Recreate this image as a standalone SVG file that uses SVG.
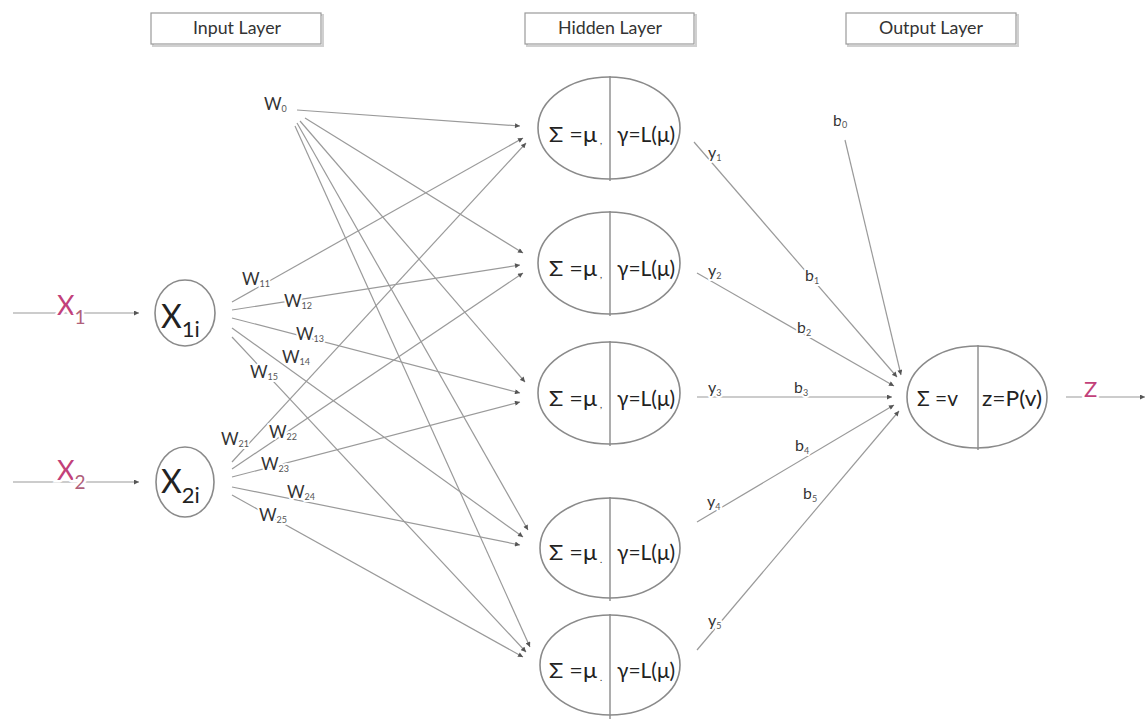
<svg xmlns="http://www.w3.org/2000/svg" width="1145" height="719" viewBox="0 0 1145 719">
  <style>
    text { font-family: Lato, "Noto Sans", "Liberation Sans", sans-serif; fill: #222; }
    .hdr { font-size: 17px; fill: #333; text-anchor: middle; }
    .hbox { fill: #fff; stroke: #9a9a9a; stroke-width: 1.2; }
    .shadow { fill: none; stroke: #d0d0d0; stroke-width: 2; }
    .node { fill: #fff; stroke: #8a8a8a; stroke-width: 1.6; }
    .div { stroke: #8a8a8a; stroke-width: 1.4; }
    .edge { stroke: #9a9a9a; stroke-width: 1.2; fill: none; marker-end: url(#arr); }
    .lbl { font-size: 17px; fill: #333; paint-order: stroke; stroke: #fff; stroke-width: 4px; stroke-linejoin: round; }
    .small { font-size: 16px; fill: #333; paint-order: stroke; stroke: #fff; stroke-width: 4px; stroke-linejoin: round; }
    .s { font-size: 9px; fill: #555; }
    .red { fill: #c2417a; paint-order: stroke; stroke: #fff; stroke-width: 5px; }
    .ntext { font-size: 22px; fill: #222; }
  </style>
  <defs>
    <marker id="arr" viewBox="0 0 6 6" refX="6" refY="3" markerWidth="6" markerHeight="5" markerUnits="userSpaceOnUse" orient="auto">
      <path d="M0,0 L6,3 L0,6 z" fill="#555"/>
    </marker>
  </defs>

  <!-- layer headers -->
  <g id="header-input">
    <rect class="shadow" x="153" y="15" width="170" height="31"/>
    <rect class="hbox" x="151" y="13" width="170" height="31"/>
    <text class="hdr" x="237" y="34" textLength="88" lengthAdjust="spacingAndGlyphs">Input Layer</text>
  </g>
  <g id="header-hidden">
    <rect class="shadow" x="527" y="15" width="169" height="31"/>
    <rect class="hbox" x="525" y="13" width="169" height="31"/>
    <text class="hdr" x="610" y="34" textLength="104" lengthAdjust="spacingAndGlyphs">Hidden Layer</text>
  </g>
  <g id="header-output">
    <rect class="shadow" x="848" y="15" width="170" height="31"/>
    <rect class="hbox" x="846" y="13" width="170" height="31"/>
    <text class="hdr" x="931" y="34" textLength="104" lengthAdjust="spacingAndGlyphs">Output Layer</text>
  </g>

  <!-- connectors -->
  <g id="connectors">
    <!-- inputs into the first layer -->
    <line class="edge" x1="13" y1="313" x2="139" y2="313"/>
    <line class="edge" x1="13" y1="482" x2="139" y2="482"/>
    <!-- bias w0 to hidden nodes -->
    <line class="edge" x1="297" y1="110" x2="520" y2="126"/>
    <line class="edge" x1="305" y1="118" x2="523" y2="253"/>
    <line class="edge" x1="300" y1="121" x2="525" y2="382"/>
    <line class="edge" x1="297" y1="123" x2="528" y2="530"/>
    <line class="edge" x1="295" y1="126" x2="530" y2="647"/>
    <!-- x1 to hidden nodes -->
    <line class="edge" x1="232" y1="302" x2="523" y2="138"/>
    <line class="edge" x1="232" y1="310" x2="520" y2="265"/>
    <line class="edge" x1="232" y1="318" x2="520" y2="393"/>
    <line class="edge" x1="232" y1="328" x2="523" y2="537"/>
    <line class="edge" x1="232" y1="337" x2="526" y2="652"/>
    <!-- x2 to hidden nodes -->
    <line class="edge" x1="232" y1="462" x2="526" y2="143"/>
    <line class="edge" x1="232" y1="469" x2="523" y2="273"/>
    <line class="edge" x1="232" y1="477" x2="520" y2="402"/>
    <line class="edge" x1="232" y1="487" x2="520" y2="545"/>
    <line class="edge" x1="232" y1="495" x2="523" y2="657"/>
    <!-- hidden outputs to output node -->
    <line class="edge" x1="694" y1="142" x2="897" y2="377"/>
    <line class="edge" x1="845" y1="140" x2="901" y2="375"/>
    <line class="edge" x1="697" y1="273" x2="894" y2="386"/>
    <line class="edge" x1="697" y1="397" x2="892" y2="397"/>
    <line class="edge" x1="697" y1="522" x2="894" y2="405"/>
    <line class="edge" x1="697" y1="650" x2="899" y2="411"/>
    <!-- final output -->
    <line class="edge" x1="1066" y1="397" x2="1145" y2="397"/>
  </g>

  <!-- weight and bias labels -->
  <g id="labels">
    <text class="lbl" x="264" y="110">W<tspan class="s" dy="2">0</tspan></text>
    <text class="lbl" x="242" y="285">W<tspan class="s" dy="2">11</tspan></text>
    <text class="lbl" x="284" y="307">W<tspan class="s" dy="2">12</tspan></text>
    <text class="lbl" x="296" y="340">W<tspan class="s" dy="2">13</tspan></text>
    <text class="lbl" x="282" y="363">W<tspan class="s" dy="2">14</tspan></text>
    <text class="lbl" x="250" y="378">W<tspan class="s" dy="2">15</tspan></text>
    <text class="lbl" x="221" y="445">W<tspan class="s" dy="2">21</tspan></text>
    <text class="lbl" x="269" y="438">W<tspan class="s" dy="2">22</tspan></text>
    <text class="lbl" x="261" y="470">W<tspan class="s" dy="2">23</tspan></text>
    <text class="lbl" x="287" y="498">W<tspan class="s" dy="2">24</tspan></text>
    <text class="lbl" x="259" y="521">W<tspan class="s" dy="2">25</tspan></text>

    <text class="small" x="708" y="158">y<tspan class="s" dy="3">1</tspan></text>
    <text class="small" x="708" y="276">y<tspan class="s" dy="3">2</tspan></text>
    <text class="small" x="708" y="393">y<tspan class="s" dy="3">3</tspan></text>
    <text class="small" x="707" y="507">y<tspan class="s" dy="3">4</tspan></text>
    <text class="small" x="708" y="626">y<tspan class="s" dy="3">5</tspan></text>

    <text class="small" x="833" y="126">b<tspan class="s" dy="2">0</tspan></text>
    <text class="small" x="805" y="281">b<tspan class="s" dy="3">1</tspan></text>
    <text class="small" x="797" y="333">b<tspan class="s" dy="3">2</tspan></text>
    <text class="small" x="794" y="393">b<tspan class="s" dy="3">3</tspan></text>
    <text class="small" x="795" y="451">b<tspan class="s" dy="3">4</tspan></text>
    <text class="small" x="803" y="499">b<tspan class="s" dy="3">5</tspan></text>

    <text class="red" x="57" y="315" font-size="27">X<tspan dy="9" font-size="19" style="fill:#b0607a">1</tspan></text>
    <text class="red" x="57" y="480" font-size="27">X<tspan dy="9" font-size="19" style="fill:#b0607a">2</tspan></text>
    <text class="red" x="1084" y="397" font-size="22">Z</text>
  </g>

  <!-- input nodes -->
  <g id="input-x1">
    <ellipse class="node" cx="185" cy="313" rx="30" ry="33"/>
    <text x="161" y="328" font-size="32">X<tspan dy="9" font-size="22">1i</tspan></text>
  </g>
  <g id="input-x2">
    <ellipse class="node" cx="185" cy="482" rx="29" ry="35"/>
    <text x="161" y="493" font-size="32">X<tspan dy="10" font-size="22">2i</tspan></text>
  </g>

  <!-- hidden nodes -->
  <g id="hidden-1">
    <ellipse class="node" cx="609" cy="128" rx="71" ry="51"/>
    <line class="div" x1="610" y1="76" x2="610" y2="181"/>
    <text class="ntext" x="549" y="142" textLength="48" lengthAdjust="spacingAndGlyphs">Σ =μ</text><text x="600" y="144" font-size="9">,</text>
    <text class="ntext" x="617" y="142" textLength="58" lengthAdjust="spacingAndGlyphs">γ=L(μ)</text>
  </g>
  <g id="hidden-2">
    <ellipse class="node" cx="609" cy="263" rx="71" ry="51"/>
    <line class="div" x1="610" y1="211" x2="610" y2="316"/>
    <text class="ntext" x="549" y="276" textLength="48" lengthAdjust="spacingAndGlyphs">Σ =μ</text><text x="600" y="278" font-size="9">,</text>
    <text class="ntext" x="617" y="276" textLength="58" lengthAdjust="spacingAndGlyphs">γ=L(μ)</text>
  </g>
  <g id="hidden-3">
    <ellipse class="node" cx="609" cy="393" rx="71" ry="51"/>
    <line class="div" x1="610" y1="341" x2="610" y2="446"/>
    <text class="ntext" x="549" y="406" textLength="48" lengthAdjust="spacingAndGlyphs">Σ =μ</text><text x="600" y="408" font-size="9">,</text>
    <text class="ntext" x="617" y="406" textLength="58" lengthAdjust="spacingAndGlyphs">γ=L(μ)</text>
  </g>
  <g id="hidden-4">
    <ellipse class="node" cx="610" cy="548" rx="70" ry="50"/>
    <line class="div" x1="610" y1="497" x2="610" y2="601"/>
    <text class="ntext" x="549" y="560" textLength="48" lengthAdjust="spacingAndGlyphs">Σ =μ</text><text x="600" y="563" font-size="9">.</text>
    <text class="ntext" x="617" y="560" textLength="58" lengthAdjust="spacingAndGlyphs">γ=L(μ)</text>
  </g>
  <g id="hidden-5">
    <ellipse class="node" cx="610" cy="665" rx="70" ry="50"/>
    <line class="div" x1="610" y1="614" x2="610" y2="719"/>
    <text class="ntext" x="549" y="678" textLength="48" lengthAdjust="spacingAndGlyphs">Σ =μ</text><text x="600" y="681" font-size="9">.</text>
    <text class="ntext" x="617" y="678" textLength="58" lengthAdjust="spacingAndGlyphs">γ=L(μ)</text>
  </g>

  <!-- output node -->
  <g id="output-node">
    <ellipse class="node" cx="977" cy="397" rx="70" ry="51"/>
    <line class="div" x1="978" y1="345" x2="978" y2="450"/>
    <text class="ntext" x="917" y="406" textLength="41" lengthAdjust="spacingAndGlyphs">Σ =v</text>
    <text class="ntext" x="982" y="406" textLength="60" lengthAdjust="spacingAndGlyphs">z=P(v)</text>
  </g>
</svg>
